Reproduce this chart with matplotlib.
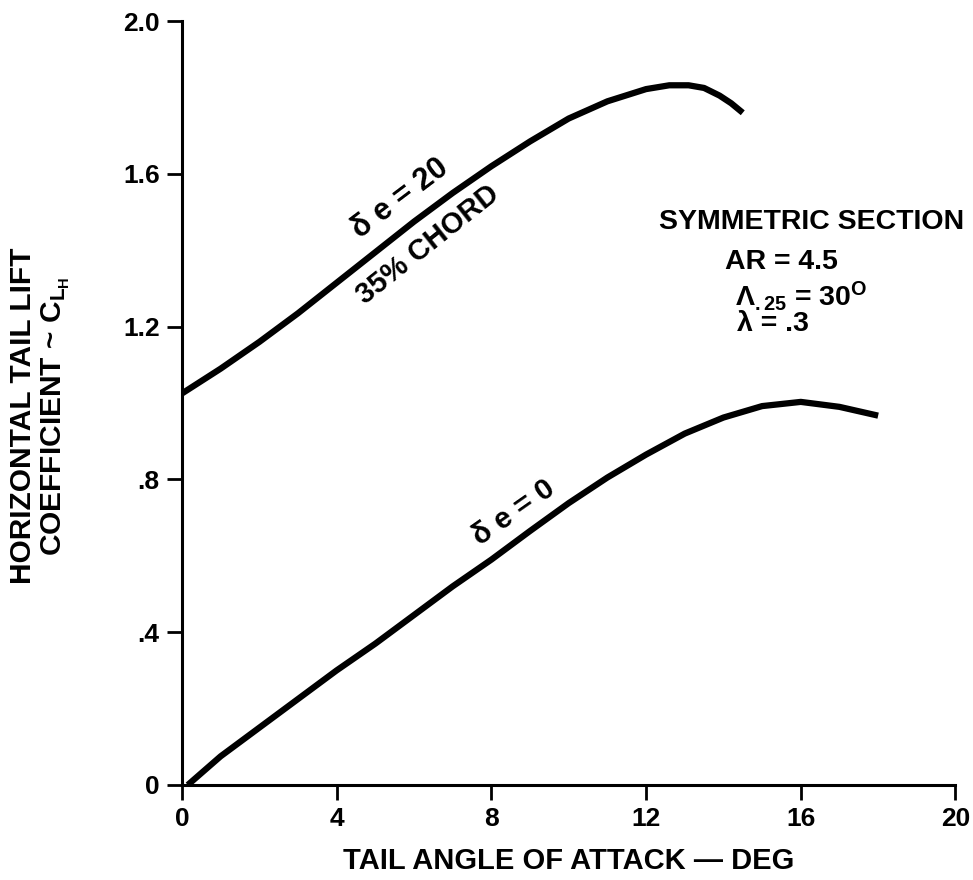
import matplotlib.pyplot as plt
import numpy as np

plt.rcParams['font.family'] = ['Liberation Sans', 'DejaVu Sans']
plt.rcParams['font.weight'] = 'bold'
plt.rcParams['axes.labelweight'] = 'bold'
plt.rcParams['mathtext.fontset'] = 'custom'
plt.rcParams['mathtext.rm'] = 'Liberation Sans:bold'
plt.rcParams['mathtext.it'] = 'Liberation Sans:bold'
plt.rcParams['mathtext.bf'] = 'Liberation Sans:bold'

# lift curves, tail angle (deg) vs C_LH
alpha_0 = [0.15, 1, 2, 3, 4, 5, 6, 7, 8, 9, 10, 11, 12, 13, 14, 15, 16, 17, 18]
cl_0 = [0.0, 0.075, 0.15, 0.225, 0.30, 0.37, 0.445, 0.52, 0.59, 0.665, 0.738,
        0.805, 0.865, 0.92, 0.962, 0.992, 1.003, 0.99, 0.967]

alpha_20 = [0, 1, 2, 3, 4, 5, 6, 7, 8, 9, 10, 11, 12, 12.6, 13.1, 13.5, 13.9, 14.2, 14.5]
cl_20 = [1.025, 1.09, 1.16, 1.235, 1.315, 1.395, 1.475, 1.55, 1.62, 1.685, 1.745,
         1.79, 1.822, 1.832, 1.832, 1.825, 1.805, 1.785, 1.76]

xticks = [0, 4, 8, 12, 16, 20]
yticks = [0, 0.4, 0.8, 1.2, 1.6, 2.0]
ytick_labels = ['0', '.4', '.8', '1.2', '1.6', '2.0']

fig = plt.figure(figsize=(9.73, 8.8), dpi=100)
ax = fig.add_axes([0.187, 0.108, 0.795, 0.868])

ax.plot(alpha_0, cl_0, color='black', lw=4.5, solid_capstyle='butt', solid_joinstyle='round')
ax.plot(alpha_20, cl_20, color='black', lw=4.5, solid_capstyle='butt', solid_joinstyle='round')

ax.set_xlim(0, 20)
ax.set_ylim(0, 2.0)
ax.set_xticks(xticks)
ax.set_yticks(yticks)
ax.set_yticklabels(ytick_labels)
ax.tick_params(labelsize=19, width=2, length=11, pad=5)
for s in ['top', 'right']:
    ax.spines[s].set_visible(False)
for s in ['left', 'bottom']:
    ax.spines[s].set_linewidth(2.2)

ax.set_xlabel('TAIL ANGLE OF ATTACK \u2014 DEG', fontsize=21)
ax.xaxis.set_label_coords(0.5, -0.081)
ax.set_ylabel('HORIZONTAL TAIL LIFT\nCOEFFICIENT ~ C$_{L_H}$', fontsize=21.5,
              linespacing=1.15)
ax.yaxis.set_label_coords(-0.142, 0.483)

# curve labels
ax.text(5.64, 1.535, '\u03b4 e = 20', fontsize=22, rotation=37, ha='center', va='center')
ax.text(6.37, 1.414, '35% CHORD', fontsize=21, rotation=38.5, ha='center', va='center')
ax.text(8.57, 0.712, '\u03b4 e = 0', fontsize=21.5, rotation=35, ha='center', va='center')

# wing geometry notes
ax.text(16.27, 1.474, 'SYMMETRIC SECTION', fontsize=20.5, ha='center', va='center')
ax.text(14.05, 1.369, 'AR = 4.5', fontsize=20.5, ha='left', va='center')
ax.text(14.3, 1.28, r'$\Lambda_{.25}$ = 30$^{\rm O}$', fontsize=20.5, ha='left', va='center')
ax.text(14.36, 1.207, '\u03bb = .3', fontsize=20.5, ha='left', va='center')

fig.savefig('out.png', dpi=100)
